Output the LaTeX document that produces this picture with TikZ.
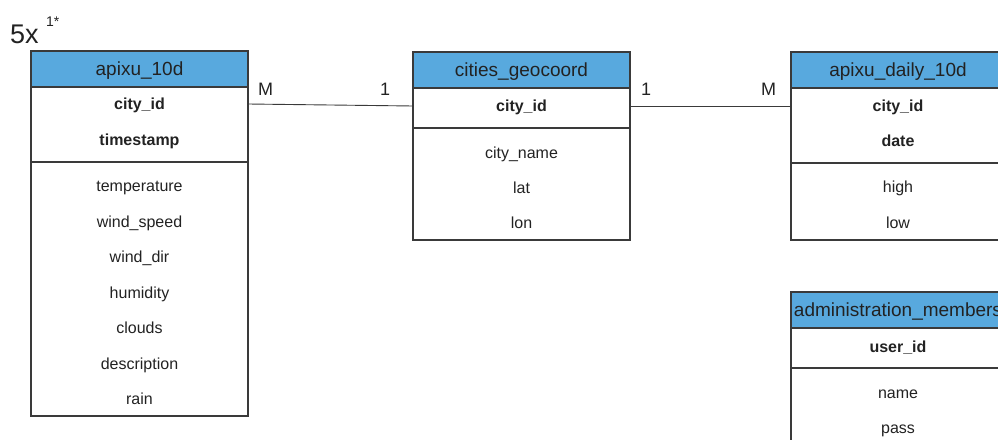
\documentclass[tikz,border=0pt]{standalone}
\usepackage{fontspec}
\setmainfont{Liberation Sans}
\definecolor{hdrblue}{HTML}{58A9DE}
\definecolor{edge}{HTML}{3A3A3A}
\definecolor{txt}{HTML}{222222}
\begin{document}
\begin{tikzpicture}[x=1pt,y=-1pt,
  tbl/.style={draw=edge, line width=1.1pt, minimum width=217pt, anchor=north west, inner sep=0pt, outer sep=0pt},
  hdr/.style={tbl, fill=hdrblue, minimum height=36pt},
  ttl/.style={font=\fontsize{19}{21}\selectfont, text=txt, inner sep=0pt, text height=16pt, text depth=3pt},
  fld/.style={font=\fontsize{16}{18}\selectfont, text=txt, inner sep=0pt, text height=14pt, text depth=3pt},
  keyf/.style={fld, font=\fontsize{16}{18}\selectfont\bfseries},
  card/.style={font=\fontsize{18}{20}\selectfont, anchor=base west, text=txt, inner sep=0pt},
  rel/.style={draw=edge, line width=0.9pt}]
\useasboundingbox (0,0) rectangle (998,439);
\clip (0,0) rectangle (998,439);

% multiplicity note
\node[font=\fontsize{27}{30}\selectfont, anchor=base west, inner sep=0pt, text=txt] (mult) at (10,43) {5x};
\node[font=\fontsize{14}{16}\selectfont, anchor=base west, inner sep=0pt, text=txt] (multsup) at (46,26) {1*};

% apixu_10d
\node[hdr] (ah) at (31,51) {};
\node[tbl, minimum height=75pt] (ak) at (31,87) {};
\node[tbl, minimum height=254pt] (aa) at (31,162) {};
\node[ttl] (aht) at (139.5,69) {apixu\_10d};
\node[keyf] (a1) at (139.5,104) {city\_id};
\node[keyf] (a2) at (139.5,140) {timestamp};
\node[fld] (a3) at (139.5,186) {temperature};
\node[fld] (a4) at (139.5,222) {wind\_speed};
\node[fld] (a5) at (139.5,257) {wind\_dir};
\node[fld] (a6) at (139.5,293) {humidity};
\node[fld] (a7) at (139.5,328) {clouds};
\node[fld] (a8) at (139.5,364) {description};
\node[fld] (a9) at (139.5,399) {rain};

% cities_geocoord
\node[hdr] (gh) at (413,52) {};
\node[tbl, minimum height=40pt] (gk) at (413,88) {};
\node[tbl, minimum height=112pt] (ga) at (413,128) {};
\node[ttl] (ght) at (521.5,70) {cities\_geocoord};
\node[keyf] (g1) at (521.5,106) {city\_id};
\node[fld] (g2) at (521.5,153) {city\_name};
\node[fld] (g3) at (521.5,188) {lat};
\node[fld] (g4) at (521.5,223) {lon};

% apixu_daily_10d
\node[hdr] (dh) at (791,52) {};
\node[tbl, minimum height=75pt] (dk) at (791,88) {};
\node[tbl, minimum height=77pt] (da) at (791,163) {};
\node[ttl] (dht) at (898,70) {apixu\_daily\_10d};
\node[keyf] (d1) at (898,106) {city\_id};
\node[keyf] (d2) at (898,141) {date};
\node[fld] (d3) at (898,187) {high};
\node[fld] (d4) at (898,223) {low};

% administration_members
\node[hdr] (mh) at (791,292) {};
\node[tbl, minimum height=40pt] (mk) at (791,328) {};
\node[tbl, minimum height=100pt] (ma) at (791,368) {};
\node[ttl] (mht) at (898,310) {administration\_members};
\node[keyf] (m1) at (898,347) {user\_id};
\node[fld] (m2) at (898,393) {name};
\node[fld] (m3) at (898,428) {pass};

% relations
\draw[rel] (a1 -| ak.east) -- (g1 -| gk.west);
\draw[rel] (g1 -| gk.east) -- (g1 -| dk.west);
\node[card] (c1) at (258,95) {M};
\node[card] (c2) at (380,95) {1};
\node[card] (c3) at (641,95) {1};
\node[card] (c4) at (761,95) {M};
\end{tikzpicture}
\end{document}
